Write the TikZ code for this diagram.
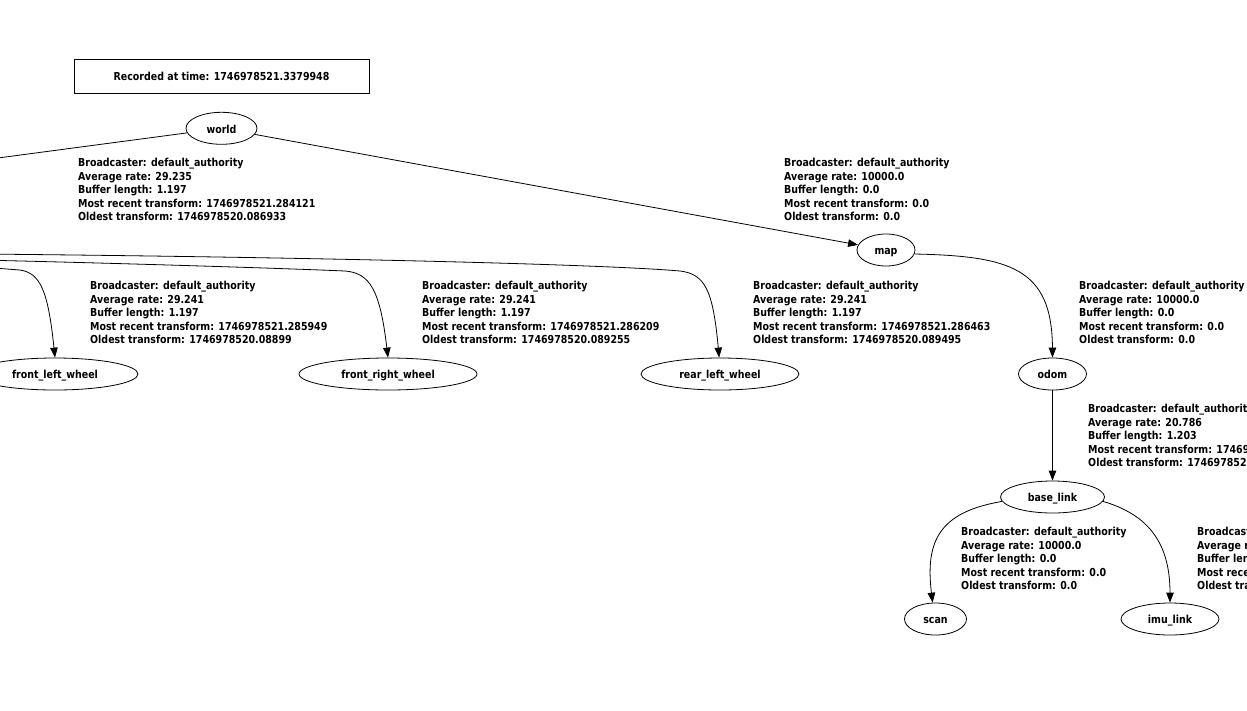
\documentclass[tikz,border=0pt]{standalone}
\usepackage{fontspec}
\setmainfont{DejaVu Sans}[FakeStretch=0.86]
\usetikzlibrary{shapes.geometric,arrows.meta}
\begin{document}
\begin{tikzpicture}[x=1pt,y=-1pt,
  every node/.style={font=\fontsize{11}{13.5}\selectfont\bfseries},
  frame/.style={ellipse,draw,line width=0.8pt,inner sep=0pt,minimum height=32pt,text height=10.5pt,text depth=1pt},
  lbl/.style={anchor=north west,align=left,inner sep=0pt},
  edge/.style={draw,line width=0.8pt,-{Triangle[length=10pt,width=7.5pt]}}]
\useasboundingbox (0,0) rectangle (1247,710);
\clip (0,0) rectangle (1247,710);
% nodes
\node[draw,line width=0.8pt,minimum width=295pt,minimum height=34pt,inner sep=0pt,text height=10.5pt,text depth=1pt] (rec) at (221.5,76) {Recorded at time: 1746978521.3379948};
\node[frame,minimum width=71pt] (world) at (221.5,128.3) {world};
\node[frame,minimum width=58pt] (map) at (886,250) {map};
\node[frame,minimum width=166pt] (flw) at (55,374) {front\_left\_wheel};
\node[frame,minimum width=178pt] (frw) at (388,374) {front\_right\_wheel};
\node[frame,minimum width=158pt] (rlw) at (720,374) {rear\_left\_wheel};
\node[frame,minimum width=68pt] (odom) at (1052.5,374) {odom};
\node[frame,minimum width=104pt] (base) at (1052.5,497) {base\_link};
\node[frame,minimum width=62pt] (scan) at (935.5,619) {scan};
\node[frame,minimum width=98pt] (imu) at (1170,619) {imu\_link};
% off-picture ends
\coordinate (wl) at (-100,171);
\coordinate (fl0) at (-20,267);
\coordinate (fr0) at (-20,260);
\coordinate (rl0) at (-20,254);
% connectors
\draw[edge] (world) -- (wl);
\draw[edge] (world) -- (map);
\draw[edge] (fl0) -- (20,270) .. controls (40,273) and (48,290) .. (flw.north);
\draw[edge] (fr0) .. controls (150,264) and (300,269) .. (345,271) .. controls (370,273) and (380,290) .. (frw.north);
\draw[edge] (rl0) .. controls (300,257) and (600,264) .. (680,271) .. controls (705,274) and (713,290) .. (rlw.93);
\draw[edge] (map.-8) .. controls (1010,256) and (1052,268) .. (odom.north);
\draw[edge] (odom) -- (base);
\draw[edge] (base.185) .. controls (940,512) and (925,540) .. (scan.100);
\draw[edge] (base.-5) .. controls (1150,515) and (1170,545) .. (imu.north);
% labels
\node[lbl] (l1) at (78,158) {Broadcaster: default\_authority\\Average rate: 29.235\\Buffer length: 1.197\\Most recent transform: 1746978521.284121\\Oldest transform: 1746978520.086933};
\node[lbl] (l2) at (784,158) {Broadcaster: default\_authority\\Average rate: 10000.0\\Buffer length: 0.0\\Most recent transform: 0.0\\Oldest transform: 0.0};
\node[lbl] (l3) at (90,281) {Broadcaster: default\_authority\\Average rate: 29.241\\Buffer length: 1.197\\Most recent transform: 1746978521.285949\\Oldest transform: 1746978520.08899};
\node[lbl] (l4) at (422,281) {Broadcaster: default\_authority\\Average rate: 29.241\\Buffer length: 1.197\\Most recent transform: 1746978521.286209\\Oldest transform: 1746978520.089255};
\node[lbl] (l5) at (753,281) {Broadcaster: default\_authority\\Average rate: 29.241\\Buffer length: 1.197\\Most recent transform: 1746978521.286463\\Oldest transform: 1746978520.089495};
\node[lbl] (l6) at (1079,281) {Broadcaster: default\_authority\\Average rate: 10000.0\\Buffer length: 0.0\\Most recent transform: 0.0\\Oldest transform: 0.0};
\node[lbl] (l7) at (1088,404) {Broadcaster: default\_authority\\Average rate: 20.786\\Buffer length: 1.203\\Most recent transform: 1746978521\\Oldest transform: 1746978520};
\node[lbl] (l8) at (961,527) {Broadcaster: default\_authority\\Average rate: 10000.0\\Buffer length: 0.0\\Most recent transform: 0.0\\Oldest transform: 0.0};
\node[lbl] (l9) at (1197,527) {Broadcaster: default\_authority\\Average rate:\\Buffer length:\\Most recent transform:\\Oldest transform:};
\end{tikzpicture}
\end{document}
